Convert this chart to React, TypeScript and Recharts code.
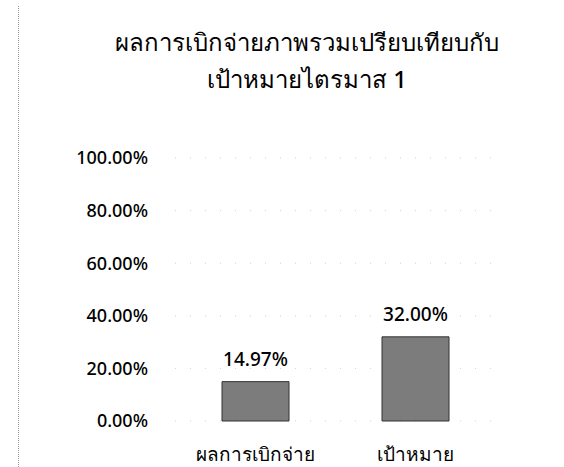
import { BarChart, Bar, XAxis, YAxis, CartesianGrid, LabelList } from "recharts";

const categories = ["ผลการเบิกจ่าย", "เป้าหมาย"];
const values = [14.97, 32.0];
const yTicks = [0, 20, 40, 60, 80, 100];
const titleLines = ["ผลการเบิกจ่ายภาพรวมเปรียบเทียบกับ", "เป้าหมายไตรมาส 1"];

const data = categories.map((name, i) => ({ name, value: values[i] }));

const font = "'Noto Sans', 'DejaVu Sans', sans-serif";

export default function App() {
  return (
    <div
      style={{
        position: "absolute",
        left: 0,
        top: 0,
        width: 564,
        height: 467,
        background: "#fff",
        fontFamily: font,
        overflow: "hidden",
      }}
    >
      {/* scanned page border on the left */}
      <div
        style={{
          position: "absolute",
          left: 18,
          top: 6,
          height: 461,
          borderLeft: "1px dotted #999",
        }}
      />
      <div
        style={{
          position: "absolute",
          left: 0,
          top: 23,
          width: 614,
          textAlign: "center",
          fontSize: 24,
          fontWeight: 500,
          lineHeight: "37px",
          color: "#000",
        }}
      >
        {titleLines.map((t) => (
          <div key={t}>{t}</div>
        ))}
      </div>
      <BarChart
        width={564}
        height={467}
        data={data}
        margin={{ top: 158, right: 69, bottom: 2, left: 0 }}
        style={{ position: "absolute", left: 0, top: 0 }}
      >
        <CartesianGrid
          vertical={false}
          stroke="#d0d0d0"
          strokeDasharray="1 14"
        />
        <XAxis
          dataKey="name"
          axisLine={false}
          tickLine={false}
          tickSize={0}
          tickMargin={27}
          height={44}
          interval={0}
          tick={{ fontSize: 19, fontWeight: 500, fill: "#000", fontFamily: font }}
        />
        <YAxis
          type="number"
          domain={[0, 100]}
          ticks={yTicks}
          width={175}
          axisLine={false}
          tickLine={false}
          tickSize={0}
          tickMargin={27}
          tickFormatter={(v: number) => `${v.toFixed(2)}%`}
          tick={{ fontSize: 18, fontWeight: 500, fill: "#000", fontFamily: font }}
        />
        <Bar
          dataKey="value"
          barSize={67}
          fill="#7c7c7c"
          stroke="#333"
          strokeWidth={1}
          isAnimationActive={false}
        >
          <LabelList
            dataKey="value"
            position="top"
            offset={16}
            formatter={(v: number) => `${v.toFixed(2)}%`}
            style={{ fontSize: 19, fontWeight: 500, fill: "#000", fontFamily: font }}
          />
        </Bar>
      </BarChart>
    </div>
  );
}
